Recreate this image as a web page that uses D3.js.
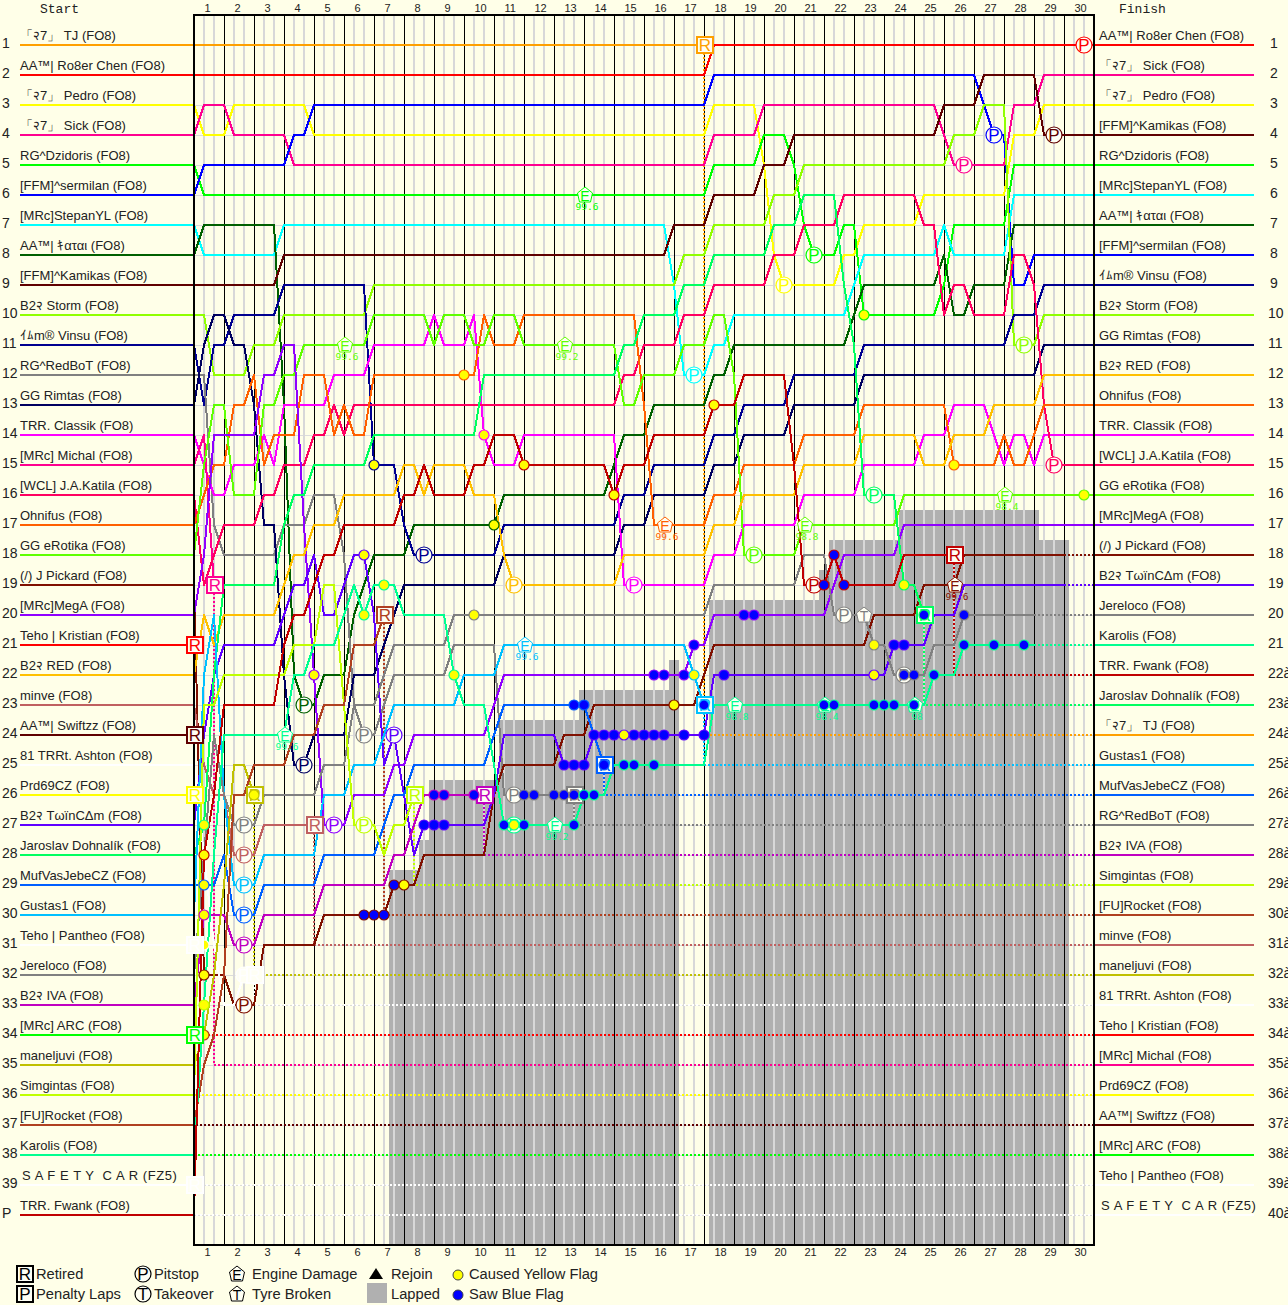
<!DOCTYPE html>
<html><head><meta charset="utf-8">
<script src="https://cdn.jsdelivr.net/npm/d3@7"></script>
<style>
html,body{margin:0;padding:0;background:#ffffe8;overflow:hidden}
svg{display:block}
text{font-family:"Liberation Sans",Arial,sans-serif;fill:#222}
</style></head><body>
<svg id="c" width="1288" height="1305"></svg>
<script>
const LAPS = d3.range(1,31);
const startNames = ["「२7」 TJ (FO8)","AA™| Ro8er Chen (FO8)","「२7」 Pedro (FO8)","「२7」 Sick (FO8)","RG^Dzidoris (FO8)","[FFM]^sermilan (FO8)","[MRc]StepanYL (FO8)","AA™| ｷαται (FO8)","[FFM]^Kamikas (FO8)","B2२ Storm (FO8)","ｲﾑm® Vinsu (FO8)","RG^RedBoT (FO8)","GG Rimtas (FO8)","TRR. Classik (FO8)","[MRc] Michal (FO8)","[WCL] J.A.Katila (FO8)","Ohnifus (FO8)","GG eRotika (FO8)","(/) J Pickard (FO8)","[MRc]MegA (FO8)","Teho | Kristian (FO8)","B2२ RED (FO8)","minve (FO8)","AA™| Swiftzz (FO8)","81 TRRt. Ashton (FO8)","Prd69CZ (FO8)","B2२ TωïnCΔm (FO8)","Jaroslav Dohnalík (FO8)","MufVasJebeCZ (FO8)","Gustas1 (FO8)","Teho | Pantheo (FO8)","Jereloco (FO8)","B2२ IVA (FO8)","[MRc] ARC (FO8)","maneljuvi (FO8)","Simgintas (FO8)","[FU]Rocket (FO8)","Karolis (FO8)","S A F E T Y  C A R (FZ5)","TRR. Fwank (FO8)"];
const driverColors = ["#ffa000","#ff0000","#ffff00","#ff0090","#00ff00","#0000ff","#00ffff","#006000","#600000","#90ff00","#000090","#808080","#000060","#ff00ff","#ff0090","#ff0060","#ff6000","#60ff00","#801000","#9000ff","#ff0000","#ffc000","#c06060","#600000","#ffffff","#ffff00","#6000ff","#00ff60","#0060ff","#00c0ff","#ffffff","#808080","#c000c0","#00ff00","#c0c000","#c0ff00","#b04020","#00ff90","#ffffff","#c00000"];
const finishOrder = [2,4,3,9,5,7,8,6,11,10,13,22,17,14,16,18,20,19,27,32,38,40,28,1,30,29,12,33,36,37,23,35,25,21,15,26,24,34,31,39];
const lastSector = [51,90,90,90,90,90,90,90,90,90,90,38,90,90,2,90,90,90,87,90,0,90,12,0,6,0,87,73,41,51,0,84,29,0,6,22,19,84,0,76];
const retiredDrivers = [1,12,15,21,23,24,25,26,28,29,30,31,33,34,35,36,37,39,40];

const d01=[[0,1]];
const d02=[[0,2],[52,1]];
const d03=[[0,3],[1,4],[4,3],[12,4],[52,3],[57,5],[58,8],[59,9],[65,8],[67,7],[73,6],[82,4],[85,3]];
const d04=[[0,4],[1,3],[4,4],[10,5],[52,4],[57,3],[75,4],[76,5],[82,3],[85,2]];
const d05=[[0,5],[1,6],[52,5],[57,4],[60,5],[61,7],[62,8],[65,7],[67,10],[75,9],[76,7],[82,5]];
const d06=[[0,6],[1,5],[10,4],[12,3],[52,2],[79,3],[80,4],[82,9],[84,8]];
const d07=[[0,7],[1,8],[9,7],[48,9],[49,12],[52,11],[54,10],[66,9],[67,8],[75,7],[76,8],[82,6]];
const d08=[[0,8],[1,7],[9,13],[10,22],[11,23],[13,22],[16,20],[17,19],[18,18],[22,17],[31,16],[42,15],[43,14],[46,13],[52,12],[54,11],[66,10],[67,9],[75,8],[76,10],[78,9],[82,7]];
const d09=[[0,9],[9,8],[48,7],[52,6],[57,5],[60,4],[75,3],[79,2],[85,4]];
const d10=[[0,10],[2,12],[6,11],[9,10],[18,9],[49,8],[52,7],[58,6],[61,5],[76,4],[79,3],[82,11],[85,10]];
const d11=[[0,11],[1,13],[2,11],[4,10],[9,9],[18,15],[21,17],[22,18],[31,17],[43,16],[46,15],[52,14],[55,13],[60,12],[67,11],[82,10],[85,9]];
const d12=[[0,12],[2,17],[3,18],[9,17],[12,16],[15,18],[16,23],[17,24],[19,23],[20,22],[26,21],[31,26]];
const d13=[[0,13],[1,11],[2,10],[4,11],[6,13],[7,17],[9,22],[10,25],[12,24],[16,22],[19,21],[20,20],[21,19],[31,18],[43,17],[46,16],[52,15],[55,14],[60,13],[67,12],[85,11]];
const d14=[[0,14],[1,15],[2,16],[4,15],[7,14],[8,15],[9,13],[14,12],[18,11],[24,10],[25,11],[28,10],[29,14],[30,15],[33,14],[43,19],[52,18],[55,17],[61,16],[67,15],[73,14],[76,13],[80,14],[81,15],[82,14],[84,15],[85,14]];
const d15=[[0,15],[1,14],[2,19]];
const d16=[[0,16],[1,19],[2,18],[3,17],[7,16],[9,15],[12,14],[14,13],[15,14],[16,13],[43,12],[45,11],[49,10],[52,9],[58,8],[61,7],[65,6],[73,7],[75,10],[76,9],[78,10],[82,8],[84,9],[85,13],[86,15]];
const d17=[[0,17],[1,16],[2,15],[4,13],[6,12],[7,15],[8,14],[11,12],[14,14],[15,13],[16,14],[18,12],[29,10],[30,11],[33,10],[45,13],[46,17],[52,16],[55,15],[61,14],[67,13],[76,15],[81,14],[82,15],[84,14],[85,13]];
const d18=[[0,18],[1,15],[2,13],[4,16],[7,13],[9,12],[11,11],[18,10],[24,11],[25,10],[28,11],[30,10],[33,11],[43,13],[45,12],[49,11],[52,10],[54,12],[55,18],[61,17],[71,16]];
const d19=[[0,19],[1,32],[4,33],[7,31],[13,30],[20,29],[23,28],[30,26],[31,25],[37,24],[40,23],[51,22],[52,21],[68,20],[73,19],[77,18]];
const d20=[[0,20],[1,18],[2,14],[7,12],[9,11],[11,17],[12,22],[13,27],[16,26],[20,25],[22,24],[30,23],[31,22],[50,21],[52,20],[64,19],[65,18],[71,17]];
const d21=[[0,21]];
const d22=[[0,22],[1,20],[2,21],[3,20],[9,19],[10,18],[12,17],[15,16],[21,15],[23,16],[24,15],[28,16],[31,18],[32,19],[43,18],[52,17],[55,16],[61,15],[67,14],[73,15],[76,14],[80,13],[85,12]];
const d23=[[0,23],[1,25],[2,26],[4,28],[7,27]];
const d24=[[0,24]];
const d25=[[0,25],[1,28],[2,31],[3,33],[5,32]];
const d26=[[0,26]];
const d27=[[0,27],[1,24],[2,22],[3,21],[9,20],[10,19],[12,18],[13,20],[15,19],[16,18],[18,20],[19,25],[20,24],[21,26],[22,28],[23,27],[30,26],[31,24],[37,25],[40,24],[52,22],[70,21],[74,20],[77,19]];
const d28=[[0,28],[1,27],[2,22],[3,19],[9,17],[10,16],[12,15],[18,14],[29,12],[43,11],[45,10],[49,9],[52,8],[58,7],[61,6],[65,9],[66,11],[67,16],[71,19],[73,20]];
const d29=[[0,29],[3,28],[4,30],[7,29],[13,28],[19,27],[20,26],[22,25],[30,24],[31,23],[40,24],[41,25]];
const d30=[[0,30],[1,22],[2,20],[3,26],[4,29],[7,28],[13,26],[16,25],[19,24],[20,23],[27,22],[31,21],[50,22],[51,23]];
const d31=[[0,31]];
const d32=[[0,32],[1,28],[2,24],[3,26],[4,27],[7,26],[13,25],[16,23],[19,22],[20,21],[26,20],[52,19],[61,18],[64,20],[68,21],[70,22],[74,21],[77,20]];
const d33=[[0,33],[1,30],[4,31],[7,30],[13,29],[20,28],[22,27],[23,26]];
const d34=[[0,34]];
const d35=[[0,35],[1,34],[2,32],[3,29],[4,25],[6,26]];
const d36=[[0,36],[1,23],[3,22],[10,21],[13,19],[15,23],[16,27],[19,28],[20,27],[22,26]];
const d37=[[0,37],[1,35],[2,34],[3,32],[4,26],[6,25],[10,24],[13,23],[16,21],[19,20]];
const d38=[[0,38],[1,33],[2,28],[3,24],[10,22],[12,21],[15,20],[16,19],[17,20],[18,19],[21,20],[26,22],[27,23],[30,25],[31,27],[39,26],[42,25],[52,23],[74,22],[77,21]];
const d39=[[0,39]];
const d40=[[0,40],[1,28],[2,26],[3,23],[9,21],[10,20],[12,19],[13,18],[15,17],[21,16],[23,15],[24,16],[28,15],[30,14],[33,15],[42,16],[43,15],[46,14],[52,13],[55,12],[60,15],[61,19],[64,18],[65,19],[71,18]];
const series=[d01,d02,d03,d04,d05,d06,d07,d08,d09,d10,d11,d12,d13,d14,d15,d16,d17,d18,d19,d20,d21,d22,d23,d24,d25,d26,d27,d28,d29,d30,d31,d32,d33,d34,d35,d36,d37,d38,d39,d40];

// lapped shading: [sector where the step starts, rank where the shading starts]
const lappedSteps=[[19.5,28.5],[22.5,27.5],[23.5,25.5],[30.5,23.5],[38.5,22.5],[47.5,21.5],[48.5,null],[51.5,19.5],[62.5,18.5],[63.5,17.5],[70.5,16.5],[84.5,17.5],[87.5,null]];

// [sector, rank, driver]
const pitstops=[[89,1,2],[86,4,9],[80,4,6],[77,5,4],[86,15,16],[62,8,5],[59,9,3],[83,11,10],[50,12,7],[68,16,28],[56,18,18],[62,19,40],[23,18,11],[32,19,22],[44,19,14],[65,20,32],[11,23,8],[11,25,13],[17,24,12],[20,24,27],[5,27,32],[5,28,23],[5,29,30],[5,30,29],[5,31,33],[5,33,19],[14,27,20],[17,27,36],[32,26,12],[32,27,38],[71,22,32],[5,32,25]];
const tyres=[[67,20,32]];
const engines=[[39,6,5,"99.6"],[15,11,18,"99.6"],[37,11,18,"99.2"],[9,24,38,"99.6"],[33,21,30,"99.6"],[47,17,17,"99.6"],[61,17,18,"98.8"],[81,16,18,"98.4"],[54,23,38,"98.8"],[63,23,38,"98.4"],[72,23,38,"98"],[36,27,38,"99.2"],[76,19,19,"99.6"]];
const yellowFlags=[[1,27,38],[1,28,40],[1,29,29],[1,30,33],[1,31,31],[1,32,19],[1,33,36],[1,34,37],[18,15,11],[27,12,17],[29,14,14],[33,15,40],[42,16,40],[30,17,8],[17,18,27],[19,19,38],[17,20,38],[12,22,20],[26,22,38],[28,20,32],[21,29,19],[32,27,38],[43,24,27],[48,23,19],[50,22,30],[52,13,40],[67,10,5],[71,19,28],[68,21,32],[68,22,27],[76,15,17],[89,16,18],[6,26,35]];
const blueFlags=[[17,30,19],[18,30,19],[19,30,19],[20,29,19],[23,27,27],[24,27,27],[25,27,27],[24,26,33],[25,26,33],[28,26,33],[33,26,12],[34,26,12],[36,26,12],[37,26,12],[38,26,12],[39,26,38],[40,26,38],[31,27,38],[33,27,38],[38,27,38],[37,25,27],[38,25,27],[39,25,27],[41,25,29],[43,25,38],[44,25,38],[46,25,38],[40,24,27],[41,24,27],[42,24,27],[44,24,27],[45,24,27],[46,24,27],[47,24,27],[49,24,27],[51,24,27],[38,23,29],[39,23,29],[51,23,30],[46,22,20],[47,22,20],[49,22,20],[50,21,20],[55,20,20],[56,20,20],[70,21,27],[71,21,27],[53,22,27],[71,22,32],[72,22,32],[74,22,38],[63,23,38],[64,23,38],[68,23,38],[69,23,38],[70,23,38],[72,23,38],[63,19,40],[65,19,40],[64,18,40],[73,20,28],[77,20,32],[77,21,38],[80,21,38],[83,21,38]];

const BG="#ffffe8";
const x=d3.scaleLinear().domain([0,90]).range([194,1094]);
const y=d3.scaleLinear().domain([1,40]).range([45,1215]);
const svg=d3.select("#c");
svg.append("rect").attr("width",1288).attr("height",1305).attr("fill",BG);
const color=i=>driverColors[i-1];

function expand(knots,end){
  const pts=[];
  knots.forEach((k,i)=>{
    const next=knots[i+1];
    pts.push(k);
    const holdTo=next?next[0]-1:end;
    if(holdTo>k[0]) pts.push([holdTo,k[1]]);
  });
  return pts;
}
const line=d3.line().x(d=>x(d[0])).y(d=>y(d[1]));

// row grid
const rows=d3.range(1,41);
svg.append("g").selectAll("line").data(rows).join("line")
  .attr("x1",x(0)).attr("x2",x(90)).attr("y1",d=>y(d)).attr("y2",d=>y(d))
  .attr("stroke","#dcdcdc").attr("stroke-width",1).attr("shape-rendering","crispEdges");

// lapped
const lapG=svg.append("g");
lappedSteps.forEach((st,i)=>{
  if(st[1]===null) return;
  const nx=lappedSteps[i+1][0];
  lapG.append("rect").attr("x",x(st[0])).attr("width",x(nx)-x(st[0]))
    .attr("y",y(st[1])).attr("height",y(41)-y(st[1])).attr("fill","#b0b0b0").attr("shape-rendering","crispEdges");
});

// vertical grid
const sectors=d3.range(1,90);
svg.append("g").selectAll("line").data(sectors).join("line")
  .attr("x1",d=>x(d)).attr("x2",d=>x(d)).attr("y1",y(0)).attr("y2",y(41))
  .attr("stroke",d=>d%3===0?"#000":"#d8d8d8").attr("stroke-width",d=>d%3===0?1:2)
  .attr("shape-rendering","crispEdges");

// left and right stubs
const lg=svg.append("g");
rows.forEach(r=>{
  lg.append("line").attr("x1",20).attr("x2",x(0)).attr("y1",y(r)).attr("y2",y(r))
    .attr("stroke",color(r)).attr("stroke-width",2).attr("shape-rendering","crispEdges");
  lg.append("text").attr("x",r===39?22:20).attr("y",y(r)-5).attr("font-size",13)
    .style("letter-spacing",r===39?"0.55px":null).style("white-space","pre").text(startNames[r-1]);
  lg.append("text").attr("x",2).attr("y",y(r)+3).attr("font-size",14).text(r===40?"P":r);
  const f=finishOrder[r-1];
  lg.append("line").attr("x1",x(90)).attr("x2",1254).attr("y1",y(r)).attr("y2",y(r))
    .attr("stroke",color(f)).attr("stroke-width",2).attr("shape-rendering","crispEdges");
  lg.append("text").attr("x",r===40?1101:1099).attr("y",y(r)-5).attr("font-size",13)
    .style("letter-spacing",r===40?"0.55px":null).style("white-space","pre").text(startNames[f-1]);
  lg.append("text").attr("x",r<10?1270:1268).attr("y",y(r)+3).attr("font-size",14).text(r>21?r+"à":r);
});

// dotted tails
const tails=svg.append("g");
series.forEach((k,i)=>{
  const d=i+1,end=lastSector[i];
  if(end>=90) return;
  const last=k[k.length-1][1];
  const rank=finishOrder.indexOf(d)+1;
  tails.append("path").attr("fill","none").attr("stroke",color(d)).attr("stroke-width",1.5)
    .attr("stroke-dasharray","2 2").attr("shape-rendering","crispEdges")
    .attr("d",line([[end,last],[end,rank],[90,rank]]));
});

// position lines
svg.append("g").selectAll("path").data(series).join("path")
  .attr("fill","none").attr("stroke",(d,i)=>color(i+1)).attr("stroke-width",2)
  .attr("stroke-linejoin","round").attr("shape-rendering","crispEdges")
  .attr("d",(d,i)=>line(expand(d,lastSector[i])));

// frame
svg.append("path").attr("fill","none").attr("stroke","#000").attr("stroke-width",2).attr("shape-rendering","crispEdges")
  .attr("d",`M${x(0)},${y(41)}V${y(0)}H${x(90)}V${y(41)}Z`);

// lap labels via axes
[[d3.axisTop,y(0)-3],[d3.axisBottom,y(41)+3]].forEach(([ax,py])=>{
  const g=svg.append("g").attr("transform",`translate(0,${py})`)
    .call(ax(d3.scaleLinear().domain([0,30]).range([x(0),x(90)])).tickValues(LAPS.map(l=>l-1)).tickSize(0).tickPadding(0).tickFormat(d=>d+1));
  g.select(".domain").remove();
  g.selectAll("text").attr("font-size",11).attr("font-family","Liberation Sans").attr("fill","#222")
    .attr("text-anchor","start").attr("dx",10);
});
svg.append("text").attr("x",40).attr("y",13).attr("font-size",13).style("font-family","Liberation Mono").text("Start");
svg.append("text").attr("x",1119).attr("y",13).attr("font-size",13).style("font-family","Liberation Mono").text("Finish");

// icons
function square(g,cx,cy,c,t){
  g.append("rect").attr("x",cx-8).attr("y",cy-8).attr("width",16).attr("height",16)
    .attr("fill","#fffff4").attr("stroke",c).attr("stroke-width",1.5).attr("shape-rendering","crispEdges");
  g.append("text").attr("x",cx).attr("y",cy+6).attr("text-anchor","middle").attr("font-size",17).style("fill",c).text(t);
}
function circle(g,cx,cy,c,t){
  g.append("circle").attr("cx",cx).attr("cy",cy).attr("r",8).attr("fill","#fffff4").attr("stroke",c).attr("stroke-width",1.2);
  g.append("text").attr("x",cx).attr("y",cy+6).attr("text-anchor","middle").attr("font-size",17).style("fill",c).text(t);
}
function penta(g,cx,cy,c,t){
  const p=[[0,-8],[7.5,-2],[5.5,7],[-5.5,7],[-7.5,-2]].map(q=>[cx+q[0],cy+q[1]].join(",")).join(" ");
  g.append("polygon").attr("points",p).attr("fill","#fffff4").attr("stroke",c).attr("stroke-width",1);
  g.append("text").attr("x",cx).attr("y",cy+5.5).attr("text-anchor","middle").attr("font-size",14).style("fill",c).text(t);
}
const marks=svg.append("g");
engines.forEach(([s,r,d,l])=>{
  penta(marks,x(s)+1,y(r),color(d),"E");
  marks.append("text").attr("x",x(s)+3).attr("y",y(r)+15).attr("text-anchor","middle").attr("font-size",9.5)
    .style("font-family","DejaVu Sans Mono").style("fill",color(d)).text(l);
});
tyres.forEach(([s,r,d])=>penta(marks,x(s),y(r),"#808080","T"));
pitstops.forEach(([s,r,d])=>circle(marks,x(s),y(r),color(d),"P"));
const retiredMark=(g,d)=>{
  const k=series[d-1],s=lastSector[d-1],r=k[k.length-1][1];
  square(g,x(s)+1,y(r),color(d),"R");
};
retiredDrivers.filter(d=>lastSector[d-1]>0).forEach(d=>retiredMark(marks,d));
const flags=svg.append("g");
function flag(data,fill,rad){
  flags.selectAll(null).data(data).join("circle")
    .attr("cx",d=>x(d[0])).attr("cy",d=>y(d[1])).attr("r",rad).attr("fill",fill)
    .attr("stroke",d=>color(d[2])).attr("stroke-width",1.2);
}
flag(blueFlags,"#0000ff",5);
flag(yellowFlags,"#ffff00",5);
const lateMarks=svg.append("g");
retiredDrivers.filter(d=>lastSector[d-1]===0).forEach(d=>retiredMark(lateMarks,d));

// legend
const lgd=svg.append("g");
const lt=(tx,ty,t)=>lgd.append("text").attr("x",tx).attr("y",ty).attr("font-size",14.7).text(t);
square(lgd,25,1274,"#000","R"); lt(36,1279,"Retired");
square(lgd,25,1294,"#000","P"); lt(36,1299,"Penalty Laps");
circle(lgd,143,1274,"#000","P"); lt(154,1279,"Pitstop");
circle(lgd,143,1294,"#000","T"); lt(154,1299,"Takeover");
penta(lgd,237,1274,"#000","E"); lt(252,1279,"Engine Damage");
penta(lgd,237,1294,"#000","T"); lt(252,1299,"Tyre Broken");
lgd.append("path").attr("d","M369,1279L376,1268L383,1279Z").attr("fill","#000"); lt(391,1279,"Rejoin");
lgd.append("rect").attr("x",367).attr("y",1283).attr("width",20).attr("height",20).attr("fill","#b0b0b0"); lt(391,1299,"Lapped");
lgd.append("circle").attr("cx",458).attr("cy",1275).attr("r",5).attr("fill","#ffff00").attr("stroke","#444"); lt(469,1279,"Caused Yellow Flag");
lgd.append("circle").attr("cx",458).attr("cy",1295).attr("r",5).attr("fill","#0000ff").attr("stroke","#444"); lt(469,1299,"Saw Blue Flag");
</script></body></html>
